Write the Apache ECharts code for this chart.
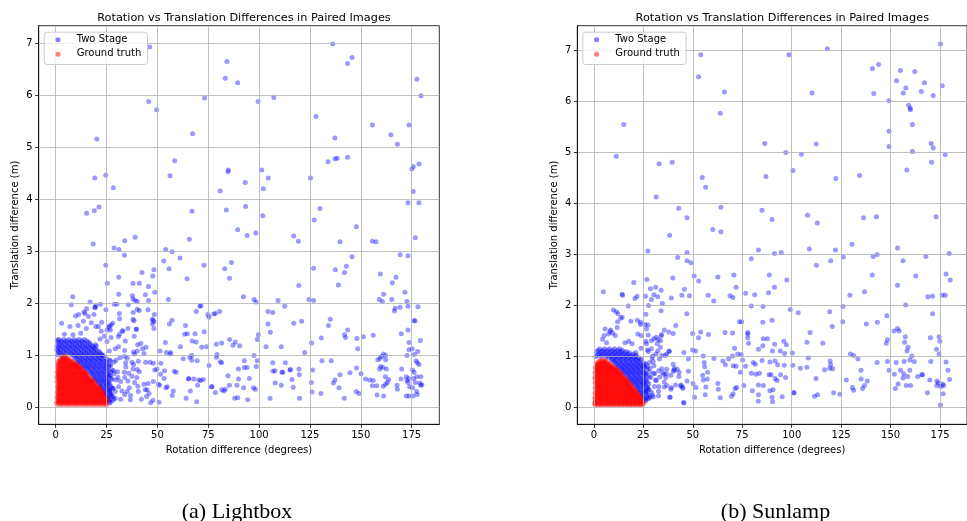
<!DOCTYPE html>
<html>
<head>
<meta charset="utf-8">
<script src="https://cdn.jsdelivr.net/npm/echarts@6/dist/echarts.min.js"></script>
<style>
html,body{margin:0;padding:0;background:#fff;}
#chart{width:967px;height:521px;}
</style>
</head>
<body>
<div id="chart"></div>
<script>
// ---------- DATA ----------
const xTickLabels = [0, 25, 50, 75, 100, 125, 150, 175];
const yTickLabels = [0, 1, 2, 3, 4, 5, 6, 7];
const seriesNames = ['Two Stage', 'Ground truth'];
const panelCaptions = ['(a) Lightbox', '(b) Sunlamp'];
const chartTitle = 'Rotation vs Translation Differences in Paired Images';

// Lightbox - Two Stage, scattered points [rotation, translation]
const lightboxTwoStage = [
[46.2,6.93],[136.2,6.99],[145.7,6.73],[143.5,6.61],[84.2,6.65],[83.4,6.33],[89.5,6.24],[177.6,6.31],[179.6,5.99],[73.2,5.95],[107.2,5.96],[99.5,5.88],[45.7,5.88],[49.6,5.72],[128.0,5.59],[155.7,5.43],[173.7,5.43],[67.3,5.26],[164.8,5.24],[168.0,5.06],[20.2,5.16],[137.3,5.18],[58.5,4.74],[133.9,4.72],[137.3,4.78],[138.4,4.79],[143.5,4.81],[178.6,4.68],[175.8,4.63],[175.1,4.58],[84.7,4.53],[84.9,4.56],[101.3,4.56],[104.5,4.41],[56.2,4.45],[24.6,4.46],[19.2,4.41],[125.3,4.41],[28.3,4.22],[93.2,4.32],[80.9,4.16],[102.1,4.20],[175.8,4.15],[173.2,3.93],[178.6,3.93],[21.3,3.85],[15.2,3.73],[19.0,3.78],[83.9,3.79],[93.4,3.86],[129.9,3.82],[67.0,3.77],[101.8,3.68],[127.1,3.60],[89.5,3.41],[147.8,3.47],[94.1,3.30],[98.4,3.35],[117.0,3.29],[119.3,3.19],[139.8,3.18],[155.7,3.19],[157.5,3.18],[176.8,3.26],[65.7,3.23],[39.1,3.27],[33.9,3.20],[18.4,3.14],[28.7,3.06],[31.1,3.03],[33.8,2.92],[54.1,3.03],[57.2,2.99],[61.1,2.87],[169.4,2.93],[173.2,2.91],[145.7,2.89],[24.6,2.73],[53.1,2.81],[86.4,2.78],[72.9,2.73],[142.9,2.71],[83.1,2.66],[55.7,2.66],[126.8,2.67],[137.5,2.64],[142.0,2.59],[159.6,2.56],[42.4,2.59],[48.3,2.64],[47.7,2.52],[31.0,2.50],[64.6,2.47],[85.5,2.48],[167.3,2.50],[165.5,2.39],[139.0,2.35],[119.5,2.34],[25.4,2.38],[38.0,2.38],[41.1,2.38],[45.6,2.32],[44.1,2.16],[48.7,2.21],[171.7,2.21],[31.0,2.17],[8.4,2.12],[37.7,2.14],[161.2,2.17],[92.3,2.12],[55.4,2.07],[39.0,2.05],[38.0,2.08],[159.1,2.07],[160.6,2.03],[165.2,2.07],[97.5,2.07],[98.5,2.02],[109.3,2.05],[124.5,2.07],[126.8,2.05],[40.1,2.03],[45.6,2.05],[172.7,2.03],[173.2,1.94],[178.1,1.93],[169.3,1.92],[166.9,1.90],[166.5,1.85],[16.9,2.02],[19.7,1.95],[22.0,1.98],[7.7,1.97],[19.2,1.92],[70.9,1.94],[112.6,1.94],[28.8,1.98],[41.1,1.86],[24.7,1.87],[69.1,1.84],[80.6,1.84],[78.5,1.80],[77.7,1.79],[104.4,1.84],[106.7,1.82],[31.3,1.80],[48.5,1.78],[14.4,1.80],[16.1,1.74],[75.4,1.73],[38.0,1.69],[38.5,1.66],[57.2,1.67],[47.9,1.67],[48.3,1.64],[135.0,1.69],[176.3,1.66],[176.6,1.66],[120.9,1.65],[117.0,1.61],[104.4,1.60],[55.9,1.60],[22.6,1.63],[2.9,1.61],[27.2,1.58],[63.8,1.57],[134.1,1.57],[19.7,1.55],[48.3,1.51],[26.1,1.53],[143.5,1.48],[39.5,1.49],[173.2,1.48],[33.1,1.46],[26.9,1.48],[105.5,1.44],[64.7,1.41],[68.5,1.41],[142.0,1.39],[142.5,1.34],[169.9,1.41],[156.1,1.38],[99.6,1.39],[99.1,1.30],[130.6,1.33],[148.1,1.32],[151.3,1.35],[85.5,1.30],[179.3,1.28],[30.8,1.35],[34.2,1.27],[125.8,1.23],[173.7,1.24],[53.9,1.24],[69.0,1.25],[74.2,1.16],[71.8,1.15],[88.3,1.25],[90.4,1.18],[87.2,1.19],[81.6,1.23],[79.0,1.21],[110.9,1.16],[103.4,1.16],[61.3,1.16],[173.7,1.10],[148.5,1.12],[175.3,1.12],[122.4,1.05],[178.0,1.07],[51.3,1.08],[56.5,1.05],[161.2,1.02],[162.2,0.99],[172.7,0.99],[176.3,1.01],[65.9,0.96],[66.9,0.99],[160.2,0.97],[159.4,0.94],[158.4,0.91],[162.2,0.91],[79.3,1.01],[79.0,0.96],[97.5,0.99],[69.6,0.89],[177.2,0.89],[177.8,0.85],[178.6,0.82],[106.7,0.85],[112.9,0.85],[130.9,0.89],[135.5,0.89],[80.9,0.87],[81.6,0.85],[92.7,0.89],[94.1,0.76],[99.1,0.89],[98.6,0.78],[159.8,0.78],[160.9,0.76],[162.6,0.73],[159.3,0.73],[147.9,0.75],[170.1,0.73],[89.8,0.73],[92.7,0.76],[107.8,0.70],[106.8,0.69],[111.3,0.67],[111.6,0.67],[115.2,0.71],[115.4,0.72],[119.6,0.73],[126.3,0.71],[139.8,0.62],[144.7,0.66],[176.2,0.67],[175.4,0.71],[150.1,0.64],[152.3,0.54],[154.4,0.52],[156.1,0.51],[162.1,0.58],[163.7,0.53],[169.8,0.54],[172.4,0.58],[172.7,0.51],[173.2,0.47],[173.5,0.55],[177.6,0.58],[179.6,0.58],[179.0,0.46],[179.5,0.42],[180.0,0.43],[176.0,0.55],[176.8,0.47],[174.0,0.39],[175.5,0.37],[177.4,0.30],[177.8,0.24],[173.7,0.21],[175.7,0.21],[172.4,0.21],[168.0,0.34],[167.8,0.42],[163.1,0.47],[161.1,0.40],[162.2,0.44],[158.0,0.23],[161.2,0.21],[155.7,0.41],[157.8,0.41],[147.8,0.30],[149.1,0.26],[141.9,0.17],[139.3,0.37],[136.5,0.46],[137.3,0.52],[130.4,0.26],[126.0,0.29],[125.7,0.47],[119.9,0.17],[116.8,0.38],[116.2,0.53],[119.8,0.62],[110.9,0.42],[107.9,0.46],[105.4,0.17],[98.2,0.34],[97.2,0.37],[94.4,0.14],[95.2,0.55],[89.9,0.54],[89.1,0.42],[89.5,0.18],[88.0,0.17],[92.4,0.37],[85.4,0.42],[84.7,0.60],[83.4,0.34],[82.7,0.31],[78.5,0.28],[76.8,0.39],[75.4,0.80],[72.6,0.53],[71.3,0.51],[70.3,0.52],[69.8,0.42],[69.3,0.10],[66.2,0.31],[65.4,0.55],[64.1,0.17],[59.2,0.67],[58.3,0.69],[57.3,0.22],[57.8,0.31],[54.2,0.37],[54.9,0.39],[53.3,0.55],[50.8,0.09],[51.6,0.63],[50.5,0.44],[48.7,0.71],[46.7,0.08],[45.9,0.26],[45.4,0.45],[44.9,0.33],[44.2,0.86],[46.4,0.86],[48.0,0.84],
[35.7,1.97],[30.1,1.98],[45.4,1.87],[13.9,1.83],[15.2,1.89],[19.5,1.91],[9.8,1.75],[11.3,1.78],[18.8,1.78],[38.1,1.82],[40.1,1.88],[7.0,1.55],[11.0,1.57],[15.1,1.51],[13.6,1.65],[17.5,1.62],[21.0,1.55],[25.2,1.48],[28.0,1.61],[31.4,1.70],[39.8,1.50],[47.5,1.60],[47.5,1.69],[26.4,1.56],[35.5,1.51],[32.7,1.47],[22.4,1.46],[4.3,1.40],[8.5,1.39],[12.3,1.42],[23.9,1.36],[27.2,1.34],[31.4,1.40],[41.9,1.22],[40.3,1.20],[38.6,1.36],[25.2,1.26],[0.8,1.29],[21.8,1.31],[63.4,1.40],[67.1,1.27],[73.0,1.45],[74.8,1.78],[71.4,1.95],[54.4,1.05],[56.3,1.02],[44.4,1.15],[42.7,1.12],[40.1,1.08],[38.3,1.06],[33.9,1.09],[33.9,0.97],[30.9,1.16],[29.3,1.12],[26.4,1.08],[35.2,0.94],[38.8,1.02],[31.6,0.95],[37.5,0.86],[40.6,0.88],[43.4,1.03],[26.9,0.89],[29.6,0.90],[28.7,0.86],[22.6,0.99],[26.4,0.81],[34.4,0.85],[34.5,0.77],[38.3,0.82],[38.0,0.73],[40.1,0.72],[41.1,0.68],[49.8,0.73],[51.7,0.84],[30.4,0.68],[27.7,0.71],[28.7,0.64],[26.7,0.61],[33.7,0.67],[35.9,0.65],[37.5,0.59],[30.6,0.57],[33.9,0.57],[39.9,0.57],[27.7,0.53],[29.8,0.52],[31.9,0.49],[35.5,0.50],[38.8,0.47],[43.4,0.44],[40.4,0.40],[36.2,0.37],[35.2,0.30],[32.6,0.31],[30.9,0.39],[28.3,0.36],[25.7,0.44],[26.5,0.31],[29.3,0.30],[33.9,0.24],[36.8,0.22],[40.6,0.30],[44.0,0.33],[48.0,0.49],[51.1,0.42],[47.8,0.13],[42.1,0.15],[44.7,0.20],[36.7,0.14],[31.9,0.15],[29.3,0.17],[27.0,0.20],[53.5,0.70],[65.3,0.54],[67.9,0.54],[76.6,0.39],[81.7,0.33],[62.7,0.93],[66.9,0.90]
];

// Lightbox - Two Stage, dense band around the cluster: rows of [translation, [rotations...]]
const lightboxTwoStageBandRows = [
[1.30,[1.5,4.0,6.5,9.0,11.5,14.0]],
[1.275,[2.7,5.2,7.7,10.2,12.7,15.2]],
[1.25,[0.8,3.0,5.5,8.0,10.5,13.0,16.0]],
[1.225,[1.8,4.3,6.8,9.3,11.8,14.3,16.8]],
[1.20,[2.0,4.5,7.0,9.5,12.0,14.5,17.0,19.5]],
[1.175,[0.6,3.1,5.6,8.1,10.6,13.1,15.6,18.1,20.0]],
[1.15,[1.0,3.5,6.0,8.5,11.0,13.5,16.0,18.5]],
[1.125,[2.2,4.7,7.2,9.7,12.2,14.7,17.2,19.2]],
[1.10,[0.5,2.5,5.0,7.5,10.0,12.5,15.0,17.5,20.0]],
[1.075,[1.2,3.7,6.2,8.7,11.2,13.7,16.2,18.7,21.2]],
[1.05,[1.5,4.0,6.5,9.0,11.5,14.0,16.5,19.0,21.5]],
[1.025,[2.3,5.0,7.5,9.8,12.3,14.8,17.3,19.8,22.3]],
[1.00,[0.8,3.0,8.0,10.5,13.0,15.5,18.0,20.5,23.0]],
[0.975,[8.9,11.0,13.3,15.8,18.3,20.8,23.5]],
[0.95,[9.5,12.0,14.5,17.0,19.5,22.0]],
[0.925,[10.3,12.7,15.2,17.7,20.2,22.7,25.0]],
[0.90,[11.0,13.5,16.0,18.5,21.0,23.5,26.5]],
[0.875,[11.8,14.2,16.7,19.2,21.7,24.2]],
[0.85,[10.5,12.5,15.0,17.5,20.0,22.5,25.0]],
[0.825,[12.4,14.8,17.2,19.7,22.2,24.7]],
[0.80,[13.5,16.0,18.5,21.0,23.5,27.0]],
[0.775,[14.0,16.3,18.8,21.3,23.8,26.0]],
[0.75,[14.5,17.0,19.5,22.0,24.5]],
[0.725,[15.3,17.8,20.3,22.8,25.2]],
[0.70,[16.0,18.5,21.0,23.5,26.0,28.5]],
[0.675,[16.8,19.2,21.7,24.2,27.0]],
[0.65,[17.5,20.0,22.5,25.0]],
[0.625,[18.0,20.5,23.0,25.6]],
[0.60,[18.5,21.0,23.5,26.5]],
[0.575,[19.0,21.6,24.1,26.0]],
[0.55,[19.5,22.0,24.5,27.5]],
[0.525,[20.0,22.6,25.0]],
[0.50,[20.5,23.0,25.5]],
[0.475,[21.0,23.5,26.0]],
[0.45,[21.5,24.0,26.5]],
[0.425,[22.2,24.8]],
[0.40,[22.0,24.5,27.0]],
[0.375,[22.6,25.0,27.3]],
[0.35,[23.0,25.5,28.0]],
[0.325,[23.5,26.0]],
[0.30,[24.0,26.5]],
[0.275,[24.2,26.8]],
[0.25,[24.5,27.0]],
[0.225,[25.0,27.5]],
[0.20,[25.5,28.0]],
[0.175,[25.7]],
[0.15,[26.0,28.5]],
[0.125,[26.2,27.8]],
[0.10,[26.5]],
[0.075,[26.8]]
];

// Lightbox - Ground truth: rows of [translation, [rotations...]]
const lightboxGroundTruthRows = [
[0.05,[1.0,2.4,3.6,5.0,6.3,7.5,8.9,10.2,11.4,12.8,14.1,15.3,16.6,17.9,19.2,20.4,21.7,23.0,24.3,25.2]],
[0.075,[0.4,1.7,3.0,4.3,5.6,6.9,8.2,9.5,10.8,12.1,13.4,14.7,16.0,17.3,18.6,19.9,21.2,22.5,23.8,24.9]],
[0.10,[0.6,1.8,3.1,4.4,5.7,6.9,8.2,9.6,10.8,12.1,13.5,14.7,16.0,17.3,18.6,19.8,21.1,22.4,23.6,24.8]],
[0.125,[0.9,2.2,3.5,4.8,6.1,7.4,8.7,10.0,11.3,12.6,13.9,15.2,16.5,17.8,19.1,20.4,21.7,23.0,24.2,25.3]],
[0.15,[1.2,2.5,3.8,5.1,6.4,7.7,9.0,10.3,11.6,12.9,14.2,15.5,16.8,18.0,19.3,20.6,21.9,23.2,24.4]],
[0.175,[0.5,1.8,3.1,4.4,5.7,7.0,8.3,9.6,10.9,12.2,13.5,14.8,16.1,17.4,18.7,20.0,21.3,22.6,23.8,24.7]],
[0.20,[0.7,2.0,3.3,4.6,5.9,7.2,8.5,9.8,11.1,12.4,13.7,15.0,16.3,17.6,18.9,20.2,21.5,22.8,23.9]],
[0.225,[1.4,2.7,4.0,5.3,6.6,7.9,9.2,10.5,11.8,13.1,14.4,15.7,17.0,18.3,19.6,20.9,22.2,23.4]],
[0.25,[1.3,2.6,3.9,5.2,6.5,7.8,9.1,10.4,11.7,13.0,14.3,15.6,16.9,18.2,19.5,20.8,22.1,23.3]],
[0.275,[0.6,1.9,3.2,4.5,5.8,7.1,8.4,9.7,11.0,12.3,13.6,14.9,16.2,17.5,18.8,20.1,21.4,22.6,23.2]],
[0.30,[0.8,2.1,3.4,4.7,6.0,7.3,8.6,9.9,11.2,12.5,13.8,15.1,16.4,17.7,19.0,20.3,21.6,22.7]],
[0.325,[1.5,2.8,4.1,5.4,6.7,8.0,9.3,10.6,11.9,13.2,14.5,15.8,17.1,18.4,19.7,21.0,22.1]],
[0.35,[1.4,2.7,4.0,5.3,6.6,7.9,9.2,10.5,11.8,13.1,14.4,15.7,17.0,18.3,19.6,20.9,21.8]],
[0.375,[0.7,2.0,3.3,4.6,5.9,7.2,8.5,9.8,11.1,12.4,13.7,15.0,16.3,17.6,18.9,20.2,21.2]],
[0.40,[0.9,2.2,3.5,4.8,6.1,7.4,8.7,10.0,11.3,12.6,13.9,15.2,16.5,17.8,19.1,20.4]],
[0.425,[1.6,2.9,4.2,5.5,6.8,8.1,9.4,10.7,12.0,13.3,14.6,15.9,17.2,18.5,19.8]],
[0.45,[1.5,2.8,4.1,5.4,6.7,8.0,9.3,10.6,11.9,13.2,14.5,15.8,17.1,18.4,19.4]],
[0.475,[0.8,2.1,3.4,4.7,6.0,7.3,8.6,9.9,11.2,12.5,13.8,15.1,16.4,17.7,18.9]],
[0.50,[0.7,2.0,3.3,4.6,5.9,7.2,8.5,9.8,11.1,12.4,13.7,15.0,16.3,17.6,18.3]],
[0.525,[1.7,3.0,4.3,5.6,6.9,8.2,9.5,10.8,12.1,13.4,14.7,16.0,17.2,17.7]],
[0.55,[1.3,2.6,3.9,5.2,6.5,7.8,9.1,10.4,11.7,13.0,14.3,15.6,16.8]],
[0.575,[0.5,1.9,3.2,4.5,5.8,7.1,8.4,9.7,11.0,12.3,13.6,14.9,16.1]],
[0.60,[0.8,2.1,3.4,4.7,6.0,7.3,8.6,9.9,11.2,12.5,13.8,15.0,15.9]],
[0.625,[1.3,2.6,3.9,5.2,6.5,7.8,9.1,10.4,11.7,13.0,14.2,15.3]],
[0.65,[1.4,2.7,4.0,5.3,6.6,7.9,9.2,10.5,11.8,13.1,14.3,14.9]],
[0.675,[0.6,2.0,3.3,4.6,5.9,7.2,8.5,9.8,11.1,12.4,13.6,14.2]],
[0.70,[0.9,2.2,3.5,4.8,6.1,7.4,8.7,10.0,11.3,12.6,13.6]],
[0.725,[1.4,2.7,4.0,5.3,6.6,7.9,9.2,10.5,11.8,12.9]],
[0.75,[1.5,2.8,4.1,5.4,6.7,8.0,9.3,10.6,11.8,12.3]],
[0.775,[0.8,2.1,3.4,4.7,6.0,7.3,8.6,9.9,11.1,11.6]],
[0.80,[1.0,2.3,3.6,4.9,6.2,7.5,8.8,10.1,10.8]],
[0.825,[1.5,2.8,4.1,5.4,6.7,8.0,9.3,10.2]],
[0.85,[1.6,2.9,4.2,5.5,6.8,8.1,9.2]],
[0.875,[1.0,2.4,3.7,5.0,6.3,7.6,8.4]],
[0.90,[1.9,3.2,4.5,5.8,7.1]],
[0.925,[2.5,3.8,5.1,6.3]],
[0.95,[3.0,4.3,5.6]],
[0.975,[3.6,4.9]]
];

// Sunlamp - Two Stage, scattered points [rotation, translation]
const sunlampTwoStage = [
[175.2,7.13],[118.0,7.04],[98.6,6.92],[54.0,6.92],[52.9,6.49],[140.8,6.65],[143.9,6.73],[154.9,6.61],[162.2,6.59],[153.0,6.41],[157.7,6.27],[167.1,6.37],[176.1,6.31],[156.4,6.17],[165.5,6.20],[171.5,6.12],[141.5,6.16],[110.3,6.17],[66.0,6.19],[149.2,6.02],[159.1,5.93],[159.9,5.87],[160.0,5.84],[63.9,5.77],[161.0,5.55],[15.1,5.55],[149.2,5.42],[170.5,5.18],[171.5,5.09],[86.4,5.18],[112.4,5.17],[149.2,5.12],[161.0,5.02],[177.6,4.96],[97.0,5.00],[104.9,4.97],[11.3,4.93],[170.7,4.81],[158.2,4.66],[33.0,4.78],[39.6,4.81],[100.6,4.65],[87.0,4.53],[54.8,4.51],[56.5,4.32],[134.3,4.55],[122.3,4.49],[31.5,4.13],[42.9,3.91],[64.2,3.93],[47.1,3.72],[85.0,3.87],[90.1,3.69],[108.0,3.77],[112.9,3.62],[136.3,3.72],[142.8,3.74],[173.0,3.74],
[60.1,3.49],[64.2,3.45],[38.3,3.38],[27.3,3.07],[47.1,3.04],[83.2,3.09],[91.3,3.02],[94.7,3.04],[108.9,3.11],[122.1,3.09],[130.5,3.20],[153.5,3.13],[179.6,3.02],[42.4,2.94],[79.6,2.92],[126.1,2.95],[143.2,3.00],[141.2,2.96],[167.8,2.96],[47.1,2.88],[49.1,2.84],[119.7,2.88],[156.3,2.88],[112.5,2.79],[50.7,2.58],[70.8,2.60],[88.7,2.60],[140.7,2.60],[162.7,2.58],[178.0,2.62],[26.8,2.51],[39.9,2.54],[62.7,2.56],[53.0,2.48],[97.5,2.50],[180.1,2.50],[20.2,2.45],[153.5,2.40],[31.2,2.36],[71.9,2.36],[91.3,2.36],[28.6,2.33],[34.0,2.30],[136.8,2.27],[4.8,2.27],[14.3,2.22],[14.5,2.20],[45.8,2.32],[21.8,2.18],[26.1,2.18],[30.4,2.21],[32.3,2.17],[57.8,2.20],[68.8,2.19],[76.7,2.24],[81.3,2.21],[88.3,2.25],[129.4,2.20],[168.8,2.17],[171.2,2.18],[176.0,2.20],[177.6,2.20],[44.5,2.20],[48.3,2.19],[39.2,2.15],[20.8,2.14],[29.1,2.12],[70.3,2.16],[60.6,2.09],[34.6,2.04],[79.6,1.99],[85.5,1.98],[125.9,1.98],[157.6,2.01],[17.4,1.99],[27.7,2.00],[9.9,1.91],[11.3,1.88],[34.0,1.90],[119.2,1.88],[99.3,1.92],[103.3,1.86],[171.2,1.84],[47.0,1.84],[12.2,1.84],[26.3,1.83],[148.1,1.80],[12.0,1.68],[14.3,1.77],[18.7,1.69],[22.0,1.71],[23.6,1.67],[25.9,1.63],[27.4,1.62],[41.4,1.61],[73.6,1.68],[74.7,1.68],[90.1,1.71],[85.4,1.67],[125.8,1.68],[137.7,1.64],[143.3,1.67],[5.7,1.54],[8.5,1.52],[153.5,1.55],[154.3,1.50],[151.7,1.50],[120.5,1.59],[109.3,1.47],[107.7,1.28],[115.7,1.26],[77.8,1.47],[77.8,1.44],[66.3,1.47],[70.1,1.46],[57.9,1.43],[54.0,1.48],[49.9,1.45],[52.9,1.37],[37.9,1.48],[40.1,1.45],[34.0,1.40],[157.4,1.39],[170.1,1.37],[174.5,1.39],[174.9,1.30],[148.4,1.33],[147.8,1.26],[157.1,1.28],[158.8,1.18],[158.3,1.11],[160.7,1.01],[173.2,1.14],[174.5,1.05],[77.8,1.37],[78.2,1.26],[85.7,1.35],[87.7,1.35],[96.0,1.30],[97.3,1.23],[91.4,1.24],[85.4,1.21],[71.1,1.16],[72.7,1.05],[74.5,1.04],[83.2,1.14],[100.3,1.07],[96.4,1.06],[94.2,1.11],[90.3,1.11],[129.7,1.05],[131.3,1.02],[133.5,0.95],[108.4,0.97],[68.1,0.95],[70.1,1.01],[75.2,0.93],[60.7,0.96],[55.8,0.88],[51.4,1.11],[49.9,1.13],[45.5,1.08],[47.8,0.95],[55.3,1.01],[161.9,0.90],[159.7,0.93],[156.8,0.90],[148.4,0.90],[143.2,0.88],[152.8,0.88],[170.3,0.90],[178.0,0.89],[179.0,0.73],[149.2,0.73],[155.0,0.73],[159.7,0.73],[135.0,0.73],[119.4,0.91],[119.7,0.84],[120.7,0.76],[119.2,0.77],[116.6,0.74],[107.7,0.79],[104.4,0.77],[85.0,0.92],[80.6,0.88],[81.6,0.85],[89.0,0.89],[91.6,0.91],[92.9,0.84],[96.2,0.83],[100.5,0.83],[65.2,0.91],[71.9,0.81],[70.4,0.82],[66.5,0.84],[76.7,0.81],[74.0,0.69],[79.6,0.67],[81.9,0.65],[83.7,0.67],[89.6,0.64],[88.6,0.64],[94.4,0.64],[96.9,0.59],[127.6,0.54],[135.1,0.56],[138.2,0.52],[151.9,0.65],[156.6,0.66],[158.6,0.61],[163.7,0.61],[165.8,0.64],[166.1,0.64],[156.3,0.58],[169.8,0.54],[173.4,0.52],[174.0,0.48],[176.3,0.46],[179.8,0.55],[173.4,0.43],[175.4,0.41],[176.8,0.43],[176.5,0.27],[175.2,0.05],[168.6,0.29],[160.1,0.43],[157.9,0.43],[152.4,0.37],[153.8,0.46],[135.8,0.37],[130.7,0.39],[131.3,0.34],[136.8,0.43],[124.3,0.26],[121.2,0.29],[113.1,0.25],[111.5,0.22],[112.3,0.57],[101.0,0.29],[101.2,0.29],[95.2,0.21],[90.3,0.11],[90.1,0.20],[92.6,0.53],[91.6,0.57],[90.6,0.35],[89.0,0.33],[85.7,0.43],[83.2,0.44],[83.2,0.25],[83.1,0.12],[80.1,0.33],[75.8,0.43],[72.2,0.39],[70.4,0.27],[69.6,0.22],[71.4,0.37],[63.9,0.19],[62.7,0.47],[62.9,0.36],[57.3,0.56],[56.6,0.40],[55.0,0.63],[55.3,0.54],[56.3,0.25],[51.6,0.39],[50.9,0.20],[50.1,0.47],[56.0,0.80],[57.5,0.69],[47.8,0.71],[47.1,0.52],[45.0,0.37],[43.8,0.42],[45.5,0.09],[43.0,0.61],[40.6,0.73],[42.2,0.75],[38.9,0.63],[38.3,0.20],[39.2,0.39],[36.6,0.66],[34.3,0.76],[35.5,0.65],[33.3,0.60],[31.2,0.54],[30.2,0.67],[28.4,0.77],[27.1,0.80],[30.0,0.90],[28.1,0.88],[25.3,0.83],[26.1,0.67],[25.3,0.48],[27.4,0.36],[29.1,0.30],[30.0,0.21],[32.7,0.23],[32.8,0.41],[36.9,0.43],[32.3,1.11],[33.7,1.18],[31.4,1.05],[29.7,1.01],[27.1,1.13],[23.8,1.16],[26.3,1.30],[30.4,1.35],[32.5,1.33],[36.8,1.05],[38.1,1.11],[33.2,0.95],[40.1,0.85],[36.0,1.02],
[13.6,1.75],[11.8,1.57],[23.5,1.63],[26.6,1.54],[8.2,1.49],[7.4,1.44],[5.2,1.41],[9.5,1.46],[10.8,1.41],[17.6,1.30],[19.3,1.25],[22.2,1.44],[23.9,1.41],[15.7,1.27],[4.4,1.34],[6.4,1.27],[21.2,1.08],[27.5,1.42],[29.1,1.31],[31.5,1.38],[34.3,1.43],[35.6,1.52],[33.7,1.31],[26.6,1.25],[29.1,1.15],[32.0,1.25],[34.3,1.02],[38.1,1.10],[29.4,0.97],[27.5,1.10],[30.4,0.82],[30.7,0.66],[32.8,0.72],[34.8,0.68],[36.8,0.75],[40.2,0.71],[40.7,0.77],[43.1,0.69],[36.4,0.59],[35.6,0.50],[31.5,0.53],[28.8,0.59],[27.8,0.46],[30.6,0.41],[32.7,0.32],[35.6,0.40],[38.9,0.36],[41.3,0.44],[44.1,0.44],[38.6,0.20],[45.4,0.10],[44.8,0.40],[27.1,0.18],[29.6,0.24],[26.3,0.32],[28.1,0.69]
];

// Sunlamp - Two Stage, dense band around the cluster: rows of [translation, [rotations...]]
const sunlampTwoStageBandRows = [
[1.15,[3.0,5.5,8.0,10.5,13.0]],
[1.125,[2.2,4.7,7.2,9.7,12.2,14.5]],
[1.10,[1.5,4.0,6.5,9.0,11.5,14.0,16.5]],
[1.075,[3.2,5.7,8.2,10.7,13.2,15.7,18.0]],
[1.05,[2.5,5.0,7.5,10.0,12.5,15.0,17.5,20.0]],
[1.025,[1.7,4.2,6.7,9.2,11.7,14.2,16.7,19.2,21.5]],
[1.00,[1.0,3.5,6.0,8.5,11.0,13.5,16.0,18.5,21.0]],
[0.975,[7.5,10.2,12.7,15.2,17.7,20.2,22.5]],
[0.95,[9.0,11.5,14.0,16.5,19.0,21.5,24.0]],
[0.925,[9.2,11.2,13.7,16.2,18.7,21.2,23.5]],
[0.90,[10.0,12.5,15.0,17.5,20.0,22.5]],
[0.875,[10.8,13.2,15.7,18.2,20.7,23.2,25.5]],
[0.85,[11.5,14.0,16.5,19.0,21.5,24.0,26.5]],
[0.825,[12.0,14.5,17.0,19.5,22.0,24.5]],
[0.80,[12.5,15.0,17.5,20.0,22.5,25.0]],
[0.775,[13.2,15.7,18.2,20.7,23.2,25.8]],
[0.75,[14.0,16.5,19.0,21.5,24.0,27.0]],
[0.725,[14.5,17.0,19.5,22.0,24.5]],
[0.70,[15.0,17.5,20.0,22.5,25.0]],
[0.675,[15.5,18.0,20.5,23.0,25.5]],
[0.65,[16.0,18.5,21.0,23.5,26.0]],
[0.625,[16.8,19.2,21.7,24.2,26.8]],
[0.60,[17.5,20.0,22.5,25.0,28.0]],
[0.575,[18.0,20.5,23.0,25.5]],
[0.55,[18.5,21.0,23.5,26.0]],
[0.525,[19.0,21.5,24.0,26.5]],
[0.50,[19.5,22.0,24.5,27.0]],
[0.475,[20.0,22.5,25.0]],
[0.45,[20.5,23.0,25.5]],
[0.425,[21.2,23.7,26.2]],
[0.40,[22.0,24.5,27.0]],
[0.375,[22.2,24.7,27.3]],
[0.35,[22.5,25.0,28.0]],
[0.325,[23.0,25.5]],
[0.30,[23.5,26.0]],
[0.275,[24.0,26.5]],
[0.25,[24.5,27.5]],
[0.225,[24.7,27.0]],
[0.20,[25.0,28.5]],
[0.175,[25.5,27.8]],
[0.15,[26.0]],
[0.125,[26.2]]
];

// Sunlamp - Ground truth: rows of [translation, [rotations...]]
const sunlampGroundTruthRows = [
[0.05,[0.8,2.1,3.5,4.8,6.2,7.5,8.8,10.1,11.5,12.8,14.2,15.5,16.9,18.2,19.5,20.8,22.1,23.4,24.6]],
[0.075,[0.4,1.5,2.8,4.1,5.5,6.8,8.1,9.4,10.8,12.1,13.5,14.8,16.1,17.4,18.8,20.1,21.4,22.7,23.9,24.9]],
[0.10,[0.5,1.6,2.9,4.2,5.6,6.9,8.2,9.5,10.9,12.2,13.6,14.9,16.2,17.5,18.9,20.2,21.5,22.8,24.0,25.0]],
[0.125,[0.9,2.2,3.5,4.8,6.2,7.5,8.8,10.1,11.5,12.8,14.1,15.4,16.8,18.1,19.4,20.7,22.0,23.2,24.3]],
[0.15,[1.1,2.4,3.7,5.0,6.4,7.7,9.0,10.3,11.7,13.0,14.3,15.6,17.0,18.3,19.6,20.9,22.2,23.5,24.5]],
[0.175,[0.5,1.8,3.1,4.4,5.7,7.0,8.4,9.7,11.0,12.3,13.7,15.0,16.3,17.6,18.9,20.2,21.5,22.7,23.9]],
[0.20,[0.7,2.0,3.3,4.6,5.9,7.2,8.6,9.9,11.2,12.5,13.9,15.2,16.5,17.8,19.1,20.4,21.7,22.9,23.8]],
[0.225,[1.4,2.7,4.0,5.3,6.7,8.0,9.3,10.6,12.0,13.3,14.6,15.9,17.3,18.6,19.9,21.1,22.4,23.0]],
[0.25,[1.3,2.6,3.9,5.3,6.6,7.9,9.2,10.6,11.9,13.2,14.5,15.9,17.2,18.5,19.8,21.0,22.3]],
[0.275,[0.6,1.9,3.2,4.5,5.9,7.2,8.5,9.8,11.2,12.5,13.8,15.1,16.5,17.8,19.1,20.3,21.5,22.0]],
[0.30,[0.8,2.1,3.4,4.7,6.0,7.3,8.7,10.0,11.3,12.6,14.0,15.3,16.6,17.9,19.2,20.4,21.4]],
[0.325,[1.5,2.8,4.1,5.4,6.8,8.1,9.4,10.7,12.1,13.4,14.7,16.0,17.4,18.7,19.9,20.9]],
[0.35,[1.4,2.7,4.0,5.4,6.7,8.0,9.3,10.7,12.0,13.3,14.6,16.0,17.3,18.6,19.8,20.6]],
[0.375,[0.7,2.0,3.3,4.6,6.0,7.3,8.6,9.9,11.3,12.6,13.9,15.2,16.6,17.9,19.1,20.0]],
[0.40,[0.9,2.2,3.5,4.8,6.1,7.4,8.8,10.1,11.4,12.7,14.1,15.4,16.7,18.0,19.3]],
[0.425,[1.6,2.9,4.2,5.5,6.9,8.2,9.5,10.8,12.2,13.5,14.8,16.1,17.5,18.8]],
[0.45,[1.5,2.8,4.1,5.5,6.8,8.1,9.4,10.8,12.1,13.4,14.7,16.1,17.4,18.4]],
[0.475,[0.8,2.1,3.4,4.7,6.1,7.4,8.7,10.0,11.4,12.7,14.0,15.3,16.7,17.8]],
[0.50,[0.7,2.0,3.3,4.6,5.9,7.2,8.6,9.9,11.2,12.5,13.9,15.2,16.5,17.3]],
[0.525,[1.7,3.0,4.3,5.6,7.0,8.3,9.6,10.9,12.3,13.6,14.9,16.1,16.8]],
[0.55,[1.3,2.6,3.9,5.3,6.6,7.9,9.2,10.6,11.9,13.2,14.5,15.8,16.3]],
[0.575,[0.5,1.9,3.2,4.5,5.8,7.1,8.5,9.8,11.1,12.4,13.8,15.0,15.7]],
[0.60,[0.8,2.1,3.4,4.7,6.0,7.3,8.7,10.0,11.3,12.6,13.9,15.0]],
[0.625,[1.3,2.6,3.9,5.2,6.6,7.9,9.2,10.5,11.9,13.2,14.5]],
[0.65,[1.4,2.7,4.0,5.4,6.7,8.0,9.3,10.7,12.0,13.2,14.0]],
[0.675,[0.6,2.0,3.3,4.6,5.9,7.2,8.6,9.9,11.2,12.5,13.4]],
[0.70,[0.9,2.2,3.5,4.8,6.1,7.4,8.8,10.1,11.4,12.5]],
[0.725,[1.4,2.7,4.0,5.3,6.7,8.0,9.3,10.6,11.8,12.0]],
[0.75,[1.5,2.8,4.1,5.5,6.8,8.1,9.4,10.6,11.3]],
[0.775,[0.8,2.1,3.4,4.7,6.0,7.3,8.6,9.8,10.6]],
[0.80,[1.0,2.3,3.6,4.9,6.2,7.5,8.7,9.6]],
[0.825,[1.5,2.8,4.1,5.4,6.7,8.0,9.0]],
[0.85,[1.8,3.1,4.4,5.7,7.0,8.0]],
[0.875,[1.1,2.4,3.7,5.0,6.3,7.3]],
[0.90,[2.6,3.9,5.2,6.3]],
[0.925,[3.2,4.5,5.7]]
];

// ---------- BUILD ----------
function rowsToPairs(rows) {
  const out = [];
  rows.forEach(r => r[1].forEach(x => out.push([x, r[0]])));
  return out;
}
const lightboxBlue = lightboxTwoStage.concat(rowsToPairs(lightboxTwoStageBandRows));
const sunlampBlue = sunlampTwoStage.concat(rowsToPairs(sunlampTwoStageBandRows));
const lightboxRed = rowsToPairs(lightboxGroundTruthRows);
const sunlampRed = rowsToPairs(sunlampGroundTruthRows);

const FONT = 'DejaVu Sans';
const BLUE = 'rgba(0,0,255,0.5)';
const RED = 'rgba(255,0,0,0.5)';

const grids = [
  { left: 38.7, top: 25.7, width: 400.6, height: 398.6 },
  { left: 577.3, top: 25.7, width: 400, height: 398.6 }
];
const yRanges = [[-0.333, 7.34], [-0.33, 7.49]];

function xAxisCfg(i) {
  return {
    type: 'value', gridIndex: i, min: -8.36, max: 188.6, z: 5,
    name: 'Rotation difference (degrees)', nameLocation: 'middle', nameGap: 21,
    nameTextStyle: { fontFamily: FONT, fontSize: 10, color: '#000' },
    axisLine: { show: true, onZero: false, lineStyle: { color: '#000', width: 0.8 } },
    axisTick: { show: true, length: 3.5, customValues: xTickLabels, lineStyle: { color: '#000', width: 0.8 } },
    axisLabel: { customValues: xTickLabels, fontFamily: FONT, fontSize: 10, color: '#000', margin: 6 },
    splitLine: { show: true, lineStyle: { color: '#b0b0b0', width: 0.8 } }
  };
}
function yAxisCfg(i) {
  return {
    type: 'value', gridIndex: i, min: yRanges[i][0], max: yRanges[i][1], z: 5,
    name: 'Translation difference (m)', nameLocation: 'middle', nameGap: 18,
    nameTextStyle: { fontFamily: FONT, fontSize: 10, color: '#000' },
    axisLine: { show: true, onZero: false, lineStyle: { color: '#000', width: 0.8 } },
    axisTick: { show: true, length: 3.5, customValues: yTickLabels, lineStyle: { color: '#000', width: 0.8 } },
    axisLabel: { customValues: yTickLabels, fontFamily: FONT, fontSize: 10, color: '#000', margin: 6 },
    splitLine: { show: true, lineStyle: { color: '#b0b0b0', width: 0.8 } }
  };
}
function scatter(name, data, color, i) {
  return {
    type: 'scatter', name: name, data: data, xAxisIndex: i, yAxisIndex: i,
    symbol: 'circle', symbolSize: 5, z: 2,
    itemStyle: { color: color }, emphasis: { disabled: true }, silent: true
  };
}
function legendGraphic(x) {
  return [
    { type: 'rect', left: x, top: 31.7, z: 100, shape: { width: 103.3, height: 32.3, r: 3 },
      style: { fill: 'rgba(255,255,255,0.8)', stroke: '#cccccc', lineWidth: 1 } },
    { type: 'circle', z: 101, shape: { cx: x + 14.3, cy: 39.7, r: 2.5 }, style: { fill: BLUE } },
    { type: 'circle', z: 101, shape: { cx: x + 14.3, cy: 54.3, r: 2.5 }, style: { fill: RED } },
    { type: 'text', z: 101, left: x + 33, top: 34, style: { text: seriesNames[0], font: '10px "DejaVu Sans"', fill: '#000' } },
    { type: 'text', z: 101, left: x + 33, top: 48.6, style: { text: seriesNames[1], font: '10px "DejaVu Sans"', fill: '#000' } }
  ];
}

const chart = echarts.init(document.getElementById('chart'), null, { renderer: 'canvas' });
chart.setOption({
  animation: false,
  backgroundColor: '#fff',
  title: [
    { text: chartTitle, left: 239, top: 8, textAlign: 'center',
      textStyle: { fontFamily: FONT, fontSize: 11.3, fontWeight: 'normal', color: '#000' } },
    { text: chartTitle, left: 777.3, top: 8, textAlign: 'center',
      textStyle: { fontFamily: FONT, fontSize: 11.3, fontWeight: 'normal', color: '#000' } },
    { text: panelCaptions[0], left: 232, top: 496, textAlign: 'center',
      textStyle: { fontFamily: 'Liberation Serif', fontSize: 22, fontWeight: 'normal', color: '#000' } },
    { text: panelCaptions[1], left: 770.5, top: 496, textAlign: 'center',
      textStyle: { fontFamily: 'Liberation Serif', fontSize: 22, fontWeight: 'normal', color: '#000' } }
  ],
  grid: grids.map(g => Object.assign({ show: true, borderColor: '#000', borderWidth: 0.8, backgroundColor: 'transparent' }, g)),
  xAxis: [xAxisCfg(0), xAxisCfg(1)],
  yAxis: [yAxisCfg(0), yAxisCfg(1)],
  series: [
    scatter(seriesNames[0], lightboxBlue, BLUE, 0),
    scatter(seriesNames[1], lightboxRed, RED, 0),
    scatter(seriesNames[0], sunlampBlue, BLUE, 1),
    scatter(seriesNames[1], sunlampRed, RED, 1)
  ],
  graphic: legendGraphic(43.7).concat(legendGraphic(582.3))
});
</script>
</body>
</html>
